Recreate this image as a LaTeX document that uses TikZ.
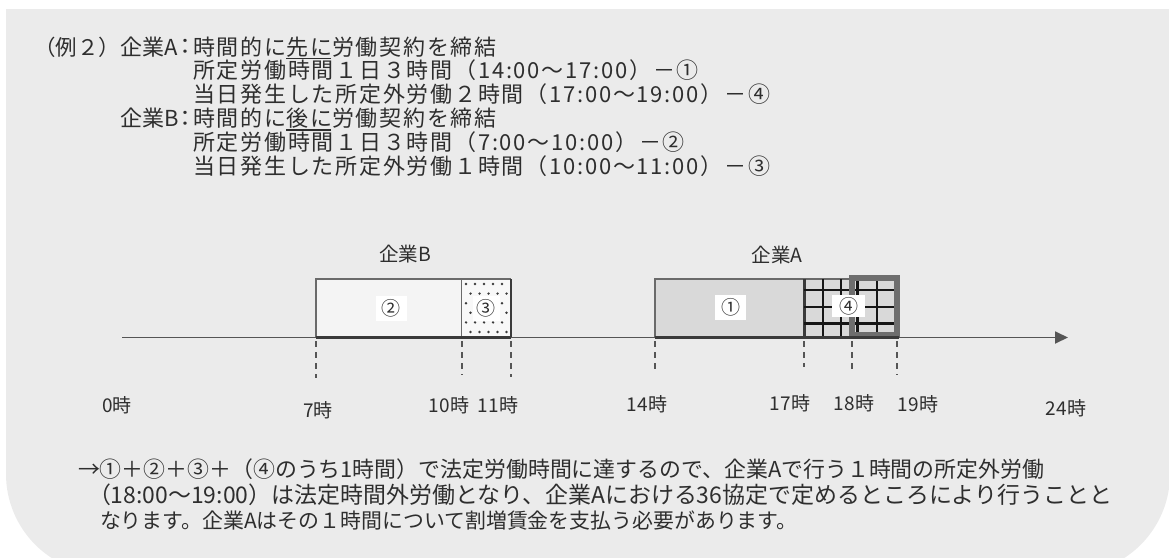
\documentclass[tikz,border=0pt]{standalone}
\usepackage{fontspec}
\setmainfont{Noto Sans CJK JP}
\newfontfamily\spaced[LetterSpace=8]{Noto Sans CJK JP}
\usetikzlibrary{arrows.meta}
\definecolor{panelc}{HTML}{EBEBEB}
\definecolor{txtc}{HTML}{2E2E2E}
\definecolor{boxc}{HTML}{6A6A6A}
\definecolor{darkc}{HTML}{3A3A3A}
\definecolor{axisc}{HTML}{555555}
\definecolor{fillA}{HTML}{D9D9D9}
\definecolor{fillB}{HTML}{F4F4F4}
\definecolor{fillC}{HTML}{F8F8F8}
\definecolor{thickc}{HTML}{6E6E6E}
\definecolor{gridc}{HTML}{161616}
\begin{document}
\begin{tikzpicture}[x=1pt,y=-1pt,
  txt/.style={inner sep=0pt, outer sep=0pt, text=txtc, font=\fontsize{22}{25}\selectfont},
  body/.style={txt, font=\spaced\fontsize{22}{25}\selectfont},
  lbl/.style={inner sep=0pt, outer sep=0pt, text=txtc, font=\fontsize{19.5}{22}\selectfont},
  tm/.style={inner sep=0pt, outer sep=0pt, text=txtc, font=\fontsize{19}{22}\selectfont},
  numlab/.style={fill=white, minimum width=31pt, minimum height=25pt, inner sep=0pt, text=txtc, font=\fontsize{19}{22}\selectfont},
  boxline/.style={draw=boxc, line width=1.5pt},
  ulline/.style={draw=txtc, line width=1.2pt},
  tickline/.style={draw=axisc, line width=1.4pt, dash pattern=on 6pt off 5pt},
  gridline/.style={draw=gridc, line width=2.4pt}
]
\useasboundingbox (0,0) rectangle (1169,557);
\clip (0,0) rectangle (1169,557);
% panel
\fill[panelc, rounded corners=100pt] (6,-300) rectangle (1170,574);
\fill[white] (-2,-2) rectangle (1172,9);

% top text
\node[txt, anchor=base west, font=\fontsize{21.5}{25}\selectfont] (ex) at (34,55) {（例２）};
\node[txt, anchor=base west] (kA) at (120,55) {企業A};
\node[txt] (cl1) at (185,47) {：};
\node[body, anchor=base west] (t1a) at (193,55) {時間的に};
\node[body, anchor=base west] (t1u) at (t1a.base east) {先に};
\node[body, anchor=base west] (t1b) at (t1u.base east) {労働契約を締結};
\draw[ulline] ([yshift=-3.6pt]t1u.base west) -- ([yshift=-3.6pt,xshift=-1.5pt]t1u.base east);
\node[body, anchor=base west] (t2) at (193,78.8) {所定労働時間１日３時間（14:00～17:00）－①};
\node[body, anchor=base west] (t3) at (193,102.6) {当日発生した所定外労働２時間（17:00～19:00）－④};
\node[txt, anchor=base west] (kB) at (120,126.4) {企業B};
\node[txt] (cl2) at (185,118.4) {：};
\node[body, anchor=base west] (t4a) at (193,126.4) {時間的に};
\node[body, anchor=base west] (t4u) at (t4a.base east) {後に};
\node[body, anchor=base west] (t4b) at (t4u.base east) {労働契約を締結};
\draw[ulline] ([yshift=-3.6pt]t4u.base west) -- ([yshift=-3.6pt,xshift=-1.5pt]t4u.base east);
\node[body, anchor=base west] (t5) at (193,150.2) {所定労働時間１日３時間（7:00～10:00）－②};
\node[body, anchor=base west] (t6) at (193,174) {当日発生した所定外労働１時間（10:00～11:00）－③};

% company labels
\node[lbl] (cB) at (405,254) {企業B};
\node[lbl] (cA) at (777,255) {企業A};

% box 2 (company B regular)
\fill[fillB] (316,279) rectangle (462,337.5);
\draw[boxline] (316,337.5) -- (316,279) -- (462,279) -- (462,337.5);
% box 3 (company B overtime, dotted)
\fill[fillC] (462,279) rectangle (511,337.5);
\foreach \r in {0,...,5}{
  \pgfmathsetmacro{\yy}{284+9.6*\r}
  \pgfmathsetmacro{\off}{mod(\r,2)*4.5}
  \foreach \c in {0,...,4}{
    \pgfmathsetmacro{\xx}{466+9*\c+\off}
    \ifdim\xx pt<508pt
      \fill[darkc] (\xx,\yy) circle (1.35pt);
    \fi
  }
}
\draw[boxline] (462,279) -- (511,279);
\draw[draw=darkc, line width=2.2pt] (511,279) -- (511,337.5);

% box 1 (company A regular)
\fill[fillA] (655,279) rectangle (804,337.5);
\draw[boxline] (655,337.5) -- (655,279) -- (804,279);
% box 4 (company A overtime, grid)
\fill[fillA] (804,279) rectangle (852,337.5);
\fill[fillA] (852,278) rectangle (896,335);
\draw[boxline] (804,279) -- (851,279);
\foreach \gx in {823,841,857.5,877}{
  \draw[gridline] (\gx,279) -- (\gx,336);
}
\draw[draw=darkc, line width=3pt] (804,279) -- (804,337.5);
\foreach \gy in {290,306.7,323.3}{
  \draw[gridline] (804,\gy) -- (894,\gy);
}
\draw[draw=thickc, line width=6pt] (851.7,278) rectangle (896.5,334.5);

% axis
\coordinate (ax0) at (122,337.5);
\coordinate (ax1) at (1068,337.5);
\draw[draw=axisc, line width=1.8pt, -{Triangle[length=13pt,width=12pt]}] (ax0) -- (ax1);
\draw[draw=darkc, line width=2.6pt] (316,337.5) -- (511,337.5);
\draw[draw=darkc, line width=2.6pt] (655,337.5) -- (899,337.5);

% labels inside boxes
\node[numlab] (n2) at (391,308) {②};
\node[numlab, minimum width=27pt] (n3) at (486,308) {③};
\node[numlab] (n1) at (730.5,307.5) {①};
\node[numlab, minimum width=33pt, minimum height=22pt] (n4) at (848.5,306) {④};

% dashed ticks
\foreach \tx/\te in {316/378,462/375,511/377,655/370,804/367,852/372,897/375}{
  \draw[tickline] (\tx,341) -- (\tx,\te);
}

% time labels
\node[tm] (h0) at (117,405) {0時};
\node[tm] (h7) at (318,410) {7時};
\node[tm] (h10) at (449,405) {10時};
\node[tm] (h11) at (498,405) {11時};
\node[tm] (h14) at (647,404) {14時};
\node[tm] (h17) at (790,403) {17時};
\node[tm] (h18) at (854,403) {18時};
\node[tm] (h19) at (918,404) {19時};
\node[tm] (h24) at (1066,408) {24時};

% bottom text
\node[txt, anchor=base west, font=\fontsize{21.9}{24}\selectfont] (b1) at (78,477) {→①＋②＋③＋（④のうち1時間）で法定労働時間に達するので、企業Aで行う１時間の所定外労働};
\node[txt, anchor=base west, font=\fontsize{22.95}{24}\selectfont] (b2) at (88,503) {（18:00～19:00）は法定時間外労働となり、企業Aにおける36協定で定めるところにより行うことと};
\node[txt, anchor=base west, font=\fontsize{20.9}{24}\selectfont] (b3) at (100,528) {なります。企業Aはその１時間について割増賃金を支払う必要があります。};
\end{tikzpicture}
\end{document}
